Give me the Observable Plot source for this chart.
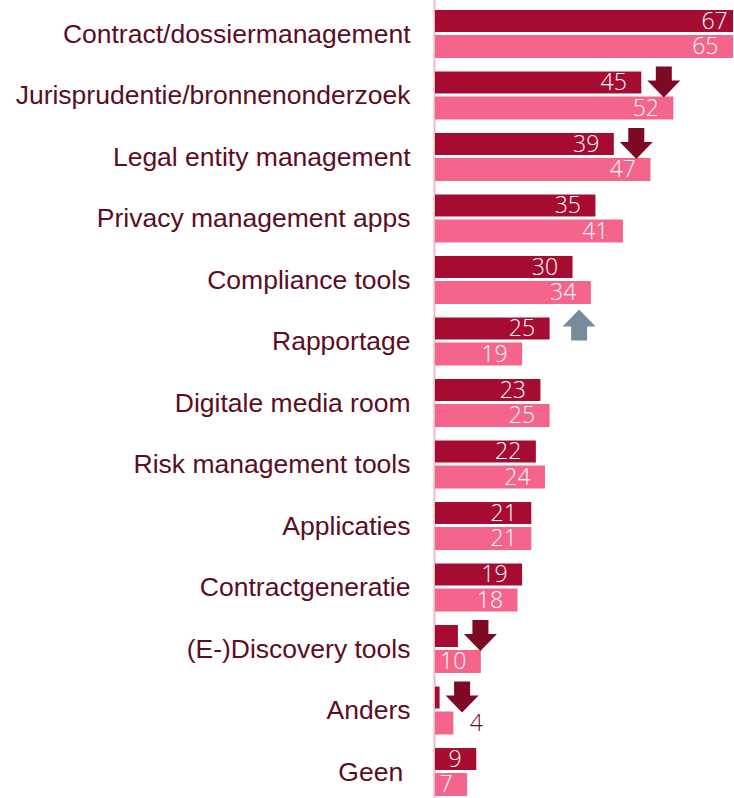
<!DOCTYPE html>
<html>
<head>
<meta charset="utf-8">
<script src="https://cdn.jsdelivr.net/npm/d3@7"></script>
<script src="https://cdn.jsdelivr.net/npm/@observablehq/plot@0.6"></script>
<style>
  html, body { margin: 0; padding: 0; background: #fff; overflow: hidden; }
  #chart svg { display: block; overflow: hidden; }
</style>
</head>
<body>
<div id="chart"></div>
<script>
const categories = [
  "Contract/dossiermanagement",
  "Jurisprudentie/bronnenonderzoek",
  "Legal entity management",
  "Privacy management apps",
  "Compliance tools",
  "Rapportage",
  "Digitale media room",
  "Risk management tools",
  "Applicaties",
  "Contractgeneratie",
  "(E-)Discovery tools",
  "Anders",
  "Geen\u00a0"
];
const valuesCurrent = [67, 45, 39, 35, 30, 25, 23, 22, 21, 19, 5, 1, 9];
const valuesPrevious = [65, 52, 47, 41, 34, 19, 25, 24, 21, 18, 10, 4, 7];
const arrowCategories = ["Jurisprudentie/bronnenonderzoek", "Legal entity management", "Rapportage", "(E-)Discovery tools", "Anders"];
const arrowDirections = ["down", "down", "up", "down", "down"];

const DARK = "#a60c31";
const PINK = "#f5658b";
const TEXT = "#5c0d24";
const ARROW_DOWN = "#7e0924";
const ARROW_UP = "#788b9a";

const cur = categories.map((c, i) => ({category: c, value: valuesCurrent[i]}));
const prev = categories.map((c, i) => ({category: c, value: valuesPrevious[i]}));
const arrows = arrowCategories.map((c, i) => ({
  category: c,
  dir: arrowDirections[i],
  value: valuesCurrent[categories.indexOf(c)]
}));

const arrowShape = (up) => ({
  draw(ctx) {
    const s = up ? -1 : 1;
    ctx.moveTo(-8, -15.5 * s);
    ctx.lineTo(8, -15.5 * s);
    ctx.lineTo(8, -1.5 * s);
    ctx.lineTo(16.5, -1.5 * s);
    ctx.lineTo(0, 15.5 * s);
    ctx.lineTo(-16.5, -1.5 * s);
    ctx.lineTo(-8, -1.5 * s);
    ctx.closePath();
  }
});

const valueFont = "'Open Sans', 'DejaVu Sans', sans-serif";
const inside = d => d.value >= 6;
const outside = d => d.value < 6;

const plot = Plot.plot({
  width: 734,
  height: 798,
  marginLeft: 435,
  marginRight: 1,
  marginTop: 10,
  marginBottom: 2,
  style: {background: "#fff"},
  x: {domain: [0, 65], axis: null},
  y: {domain: categories, paddingInner: 0.22, paddingOuter: 0, round: false, label: null},
  marks: [
    Plot.ruleX([0], {stroke: "#f6b7c7", strokeWidth: 2, dx: -1, insetTop: -10, insetBottom: -2}),
    Plot.barX(cur, {y: "category", x: "value", fill: DARK, insetBottom: 26, clip: true}),
    Plot.barX(prev, {y: "category", x: "value", fill: PINK, insetTop: 25, clip: true}),
    Plot.text(cur.filter(inside), {y: "category", x: "value", text: d => String(d.value), textAnchor: "end", dx: -15, dy: -13, fill: "#fff", fontSize: 23, fontFamily: valueFont, fontWeight: 300}),
    Plot.text(prev.filter(inside), {y: "category", x: "value", text: d => String(d.value), textAnchor: "end", dx: -15, dy: 12.5, fill: "#fff", fontSize: 23, fontFamily: valueFont, fontWeight: 300}),
    Plot.text(cur.filter(outside), {y: "category", x: "value", text: d => String(d.value), textAnchor: "start", dx: 16, dy: -13, fill: TEXT, fontSize: 23, fontFamily: valueFont, fontWeight: 300}),
    Plot.text(prev.filter(outside), {y: "category", x: "value", text: d => String(d.value), textAnchor: "start", dx: 16, dy: 12.5, fill: TEXT, fontSize: 23, fontFamily: valueFont, fontWeight: 300}),
    Plot.dot(arrows.filter(d => d.dir === "down"), {y: "category", x: "value", dx: 22, dy: -14, symbol: arrowShape(false), fill: ARROW_DOWN, stroke: "none"}),
    Plot.dot(arrows.filter(d => d.dir === "up"), {y: "category", x: "value", dx: 29, dy: -17, symbol: arrowShape(true), fill: ARROW_UP, stroke: "none"}),
    Plot.axisY({tickSize: 0, tickPadding: 25, fontSize: 26.5, fontFamily: "'Liberation Sans', Arial, sans-serif", fill: TEXT, label: null})
  ]
});
document.getElementById("chart").appendChild(plot);
</script>
</body>
</html>
